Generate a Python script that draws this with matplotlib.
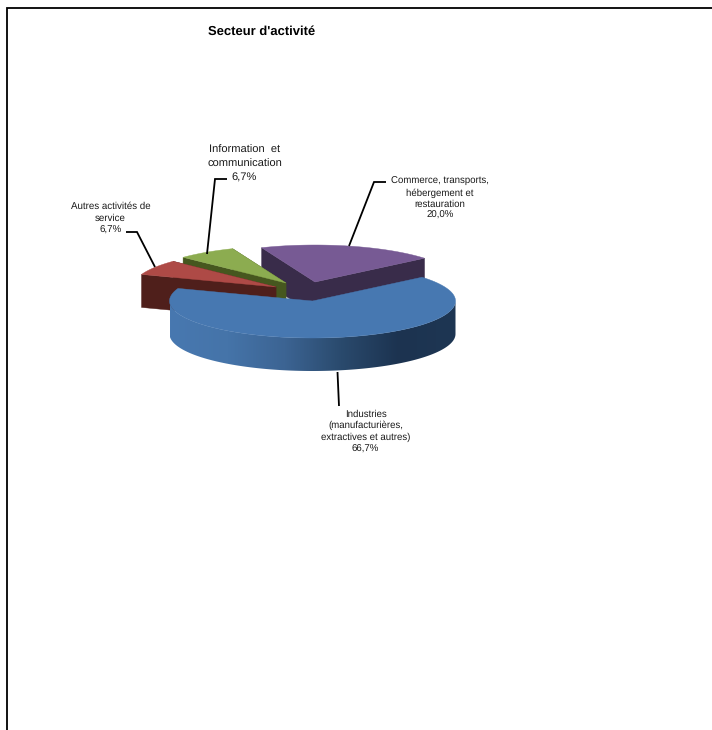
"""Exploded 3D-look pie of the sectors, projected by hand onto pixel-sized axes."""

import matplotlib

matplotlib.use("Agg")
import matplotlib.pyplot as plt
import numpy as np
from matplotlib.colors import LinearSegmentedColormap
from matplotlib.patches import Polygon

title = "Secteur d'activité"
shares = [20.0, 6.7, 6.7, 66.7]
share_labels = ["20,0%", "6,7%", "6,7%", "66,7%"]
categories = [
    "Commerce, transports,\nhébergement et\nrestauration",
    "Information  et\ncommunication",
    "Autres activités de\nservice",
    "Industries\n(manufacturières,\nextractives et autres)",
]
top_colors = ["#775a94", "#8cac50", "#ae4a46", "#4778b1"]
wall_colors = ["#392c4a", "#46571f", "#4f1f1b", "#4778b1"]

plt.rcParams["font.family"] = ["Liberation Sans", "DejaVu Sans"]
plt.rcParams["text.hinting"] = "none"

RX, RY, DEPTH = 143, 37, 33
START_ANGLE = 40
# top-surface apex of each slice once exploded, in pixels
apexes = [(315, 282), (286, 283), (276, 287), (312.5, 301)]


def rim(center, t0, t1, dy=0):
    t = np.radians(np.linspace(t0, t1, 120))
    return np.column_stack(
        [center[0] + RX * np.cos(t), center[1] - RY * np.sin(t) + dy]
    )


def side_wall(ax, center, t, color, zorder):
    corner = rim(center, t, t, 0)[0]
    quad = [
        center,
        corner,
        (corner[0], corner[1] + DEPTH),
        (center[0], center[1] + DEPTH),
    ]
    ax.add_patch(Polygon(quad, closed=True, fc=color, ec=color, lw=0.3, zorder=zorder))


fig = plt.figure(figsize=(7.12, 7.3), dpi=100)
ax = fig.add_axes([0, 0, 1, 1])

# slices run counter-clockwise from the right-hand edge of the purple one
edges = START_ANGLE + np.cumsum([0] + [s / sum(shares) * 360 for s in shares])

for i, center in enumerate(apexes[:3]):
    t0, t1 = edges[i], edges[i + 1]
    z = 2 + i
    side_wall(ax, center, t0, wall_colors[i], z)
    side_wall(ax, center, t1, wall_colors[i], z)
    top = np.vstack([[center], rim(center, t0, t1)])
    ax.add_patch(
        Polygon(top, closed=True, fc=top_colors[i], ec=top_colors[i], lw=0.3, zorder=z + 0.5)
    )

# big blue slice: shaded front rim, then its top on top of everything
blue_center = apexes[3]
lower = rim(blue_center, 180, 360, DEPTH)
upper = rim(blue_center, 360, 180)
rim_shape = Polygon(np.vstack([lower, upper]), closed=True, transform=ax.transData, fc="none", ec="none")
ax.add_patch(rim_shape)
shade = LinearSegmentedColormap.from_list(
    "rim", ["#4878b0", "#4574a9", "#3c6493", "#2a4a6d", "#1c3350", "#1e3653"]
)
img = ax.imshow(
    np.linspace(0, 1, 256).reshape(1, -1),
    cmap=shade,
    aspect="auto",
    extent=(blue_center[0] - RX, blue_center[0] + RX, 380, 290),
    zorder=6,
)
img.set_clip_path(rim_shape)
blue_top = np.vstack([[blue_center], rim(blue_center, edges[3], edges[4])])
ax.add_patch(
    Polygon(blue_top, closed=True, fc=top_colors[3], ec=top_colors[3], lw=0.3, zorder=7)
)

# leader lines
leader_x = [[349, 374, 386], [207, 215, 227], [155, 137, 126], [337.5, 339]]
leader_y = [[246, 182, 182], [254, 179, 179], [267, 232, 232], [372, 406]]
for xs, ys in zip(leader_x, leader_y, strict=True):
    ax.plot(xs, ys, color="black", lw=1.3, solid_capstyle="butt", solid_joinstyle="miter", zorder=8)

# labels
label_x = [440, 244.5, 110.5, 365.5]
label_y = [198.5, 164, 218, 431.5]
label_size = [6.9, 8.0, 7.0, 6.9]
label_spacing = [1.27, 1.42, 1.34, 1.3]
for text, pct, x, y, size, gap in zip(
    categories, share_labels, label_x, label_y, label_size, label_spacing, strict=True
):
    ax.text(
        x, y, f"{text}\n{pct}", ha="center", va="center", fontsize=size,
        linespacing=gap, color="#1a1a1a", zorder=9,
    )

ax.text(261.5, 32, title, ha="center", va="center", fontsize=9.4, fontweight="bold")

# page frame, open on the right and at the bottom
ax.plot([6.5, 6.5, 712], [730, 7.5, 7.5], color="black", lw=1.3, solid_joinstyle="miter")

ax.set_xlim(0, 712)
ax.set_ylim(730, 0)
ax.axis("off")
fig.savefig("out.png", dpi=100)
